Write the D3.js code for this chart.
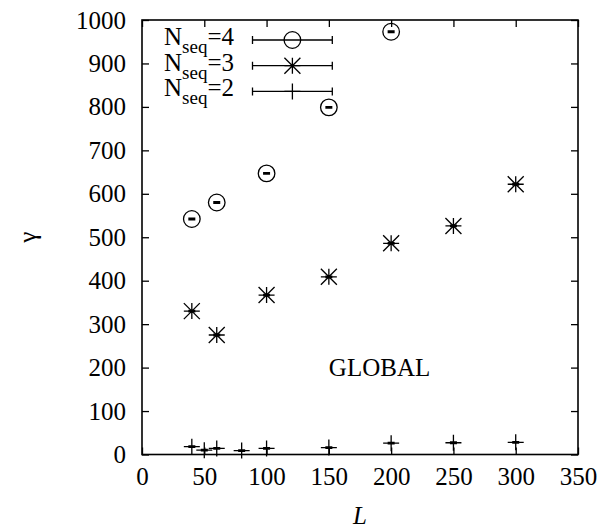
<!DOCTYPE html>
<html>
<head>
<meta charset="utf-8">
<script src="https://cdn.jsdelivr.net/npm/d3@7/dist/d3.min.js"></script>
<style>
  html, body { margin: 0; padding: 0; background: #fff; }
  svg { display: block; }
  svg text, svg tspan { font-family: "Liberation Serif", "Times New Roman", serif !important; fill: #000; }
</style>
</head>
<body>
<svg id="chart" width="610" height="529"></svg>
<script>
// ---- data ----
const L2 = [40, 50, 60, 80, 100, 150, 200, 250, 300];
const gamma2 = [18, 10, 14, 9, 14, 16, 26, 27, 28];
const err2 = [1.5, 1.5, 1.5, 1.5, 1.5, 1.5, 1.5, 1.5, 1.5];

const L3 = [40, 60, 100, 150, 200, 250, 300];
const gamma3 = [330, 275, 367, 409, 486, 526, 622];
const err3 = [1.5, 1.5, 1.5, 1.5, 1.5, 1.5, 1.5];

const L4 = [40, 60, 100, 150, 200];
const gamma4 = [542, 580, 647, 799, 973];
const err4 = [1.5, 1.5, 1.5, 1.5, 1.5];

const xTicks = [0, 50, 100, 150, 200, 250, 300, 350];
const yTicks = [0, 100, 200, 300, 400, 500, 600, 700, 800, 900, 1000];
const legendLabels = [{n: "4", shape: "circle"}, {n: "3", shape: "star"}, {n: "2", shape: "plus"}];
const annotation = "GLOBAL";

// ---- layout ----
const pLeft = 142, pRight = 578, pTop = 20, pBottom = 454.5;
const x = d3.scaleLinear().domain([0, 350]).range([pLeft, pRight]);
const y = d3.scaleLinear().domain([0, 1000]).range([pBottom, pTop]);

const svg = d3.select("#chart");
const FS = 25;
const lw = 1.3;
const SERIF = '"Liberation Serif", "Times New Roman", serif';

// frame
svg.append("rect").attr("x", pLeft).attr("y", pTop)
  .attr("width", pRight - pLeft).attr("height", pBottom - pTop)
  .attr("fill", "none").attr("stroke", "#000").attr("stroke-width", 1.6);

// axes with inward mirrored ticks
const tl = 7;
const fmt = d3.format("d");
const gx = svg.append("g").attr("transform", `translate(0,${pBottom})`)
  .call(d3.axisBottom(x).tickValues(xTicks).tickFormat(fmt).tickSize(-tl).tickPadding(22));
const gxt = svg.append("g").attr("transform", `translate(0,${pTop})`)
  .call(d3.axisTop(x).tickValues(xTicks).tickSize(-tl).tickFormat(""));
const gy = svg.append("g").attr("transform", `translate(${pLeft},0)`)
  .call(d3.axisLeft(y).tickValues(yTicks).tickFormat(fmt).tickSize(-tl).tickPadding(16));
const gyr = svg.append("g").attr("transform", `translate(${pRight},0)`)
  .call(d3.axisRight(y).tickValues(yTicks).tickSize(-tl).tickFormat(""));
[gx, gxt, gy, gyr].forEach(g => {
  g.attr("font-family", null).attr("font-size", null);
  g.select(".domain").remove();
  g.selectAll(".tick line").attr("stroke", "#000").attr("stroke-width", 1.3);
  g.selectAll("text").style("font-size", FS + "px").style("font-family", SERIF).attr("fill", "#000");
});
gx.selectAll(".tick text").attr("dy", "0.35em");

// axis labels
svg.append("text").attr("x", x(175)).attr("y", 524)
  .attr("text-anchor", "middle").style("font-size", FS + "px").style("font-family", SERIF)
  .attr("font-style", "italic").text("L");
svg.append("text").attr("transform", `translate(28,${(pTop + pBottom) / 2}) rotate(-90)`)
  .attr("text-anchor", "middle").attr("dy", "0.3em").style("font-size", FS + "px")
  .style("font-family", SERIF).text("γ");

// annotation
svg.append("text").attr("x", x(150)).attr("y", y(200)).attr("dy", "0.35em")
  .style("font-size", FS + "px").style("font-family", SERIF).text(annotation);

// marker drawing
function drawMarker(g, shape, cx, cy) {
  const s = 8;
  if (shape === "circle") {
    g.append("circle").attr("cx", cx).attr("cy", cy).attr("r", 8.3)
      .attr("fill", "none").attr("stroke", "#000").attr("stroke-width", lw);
  } else {
    const p = d3.path();
    p.moveTo(cx - s, cy); p.lineTo(cx + s, cy);
    p.moveTo(cx, cy - s); p.lineTo(cx, cy + s);
    if (shape === "star") {
      p.moveTo(cx - s, cy - s); p.lineTo(cx + s, cy + s);
      p.moveTo(cx - s, cy + s); p.lineTo(cx + s, cy - s);
    }
    g.append("path").attr("d", p.toString()).attr("stroke", "#000")
      .attr("stroke-width", lw).attr("fill", "none");
  }
}
function drawErr(g, cx, v, e) {
  const y1 = y(v - e), y2 = y(v + e), c = 3.5;
  const p = d3.path();
  p.moveTo(cx, y1); p.lineTo(cx, y2);
  p.moveTo(cx - c, y1); p.lineTo(cx + c, y1);
  p.moveTo(cx - c, y2); p.lineTo(cx + c, y2);
  g.append("path").attr("d", p.toString()).attr("stroke", "#000")
    .attr("stroke-width", 1.5).attr("fill", "none");
}

const series = [
  {xs: L4, ys: gamma4, es: err4, shape: "circle"},
  {xs: L3, ys: gamma3, es: err3, shape: "star"},
  {xs: L2, ys: gamma2, es: err2, shape: "plus"}
];
const gm = svg.append("g");
series.forEach(s => {
  s.xs.forEach((xv, i) => {
    drawErr(gm, x(xv), s.ys[i], s.es[i]);
    drawMarker(gm, s.shape, x(xv), y(s.ys[i]));
  });
});

// legend
const rowsY = [40, 65.7, 91.4];
legendLabels.forEach((d, i) => {
  const ry = rowsY[i];
  const t = svg.append("text").attr("x", 234).attr("y", ry + 5)
    .attr("text-anchor", "end").style("font-size", FS + "px").style("font-family", SERIF);
  t.append("tspan").text("N");
  t.append("tspan").style("font-size", "19px").attr("dy", 8).text("seq");
  t.append("tspan").attr("dy", -8).text("=" + d.n);
  const x1 = 252.5, x2 = 332.3, c = 4;
  const p = d3.path();
  p.moveTo(x1, ry); p.lineTo(x2, ry);
  p.moveTo(x1, ry - c); p.lineTo(x1, ry + c);
  p.moveTo(x2, ry - c); p.lineTo(x2, ry + c);
  svg.append("path").attr("d", p.toString()).attr("stroke", "#000")
    .attr("stroke-width", lw).attr("fill", "none");
  drawMarker(svg, d.shape, (x1 + x2) / 2, ry);
});
</script>
</body>
</html>
